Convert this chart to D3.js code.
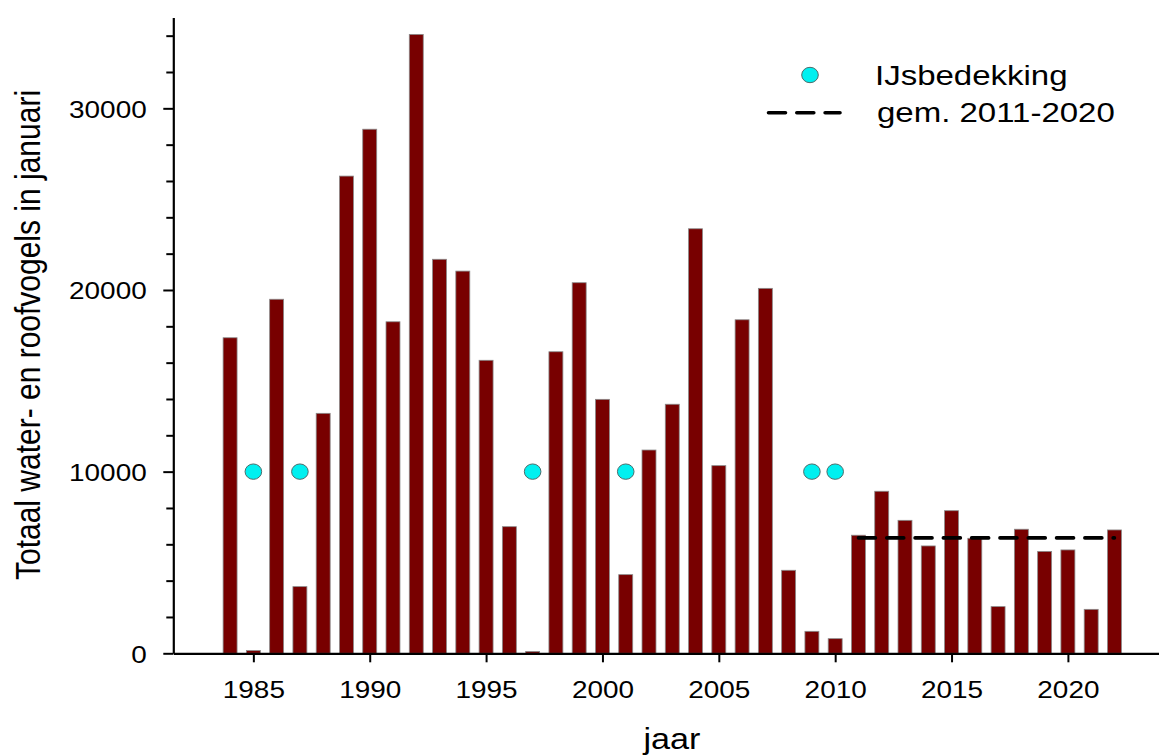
<!DOCTYPE html>
<html>
<head>
<meta charset="utf-8">
<script src="https://cdn.jsdelivr.net/npm/d3@7"></script>
<style>
  html, body { margin: 0; padding: 0; background: #fff; }
  svg { display: block; }
  text { font-family: "Liberation Sans", Arial, sans-serif; fill: #000; }
</style>
</head>
<body>
<script>
// ---- data ----
const years = d3.range(1984, 2023);
const counts = [17370, 150, 19490, 3670, 13210, 26270, 28850, 18250, 34070, 21690,
                21040, 16130, 6970, 100, 16600, 20400, 13980, 4330, 11190, 13710,
                23370, 10330, 18360, 20090, 4570, 1210, 805, 6500, 8920, 7320,
                5910, 7850, 6330, 2570, 6830, 5610, 5690, 2420, 6790];
const iceYears = [1985, 1987, 1997, 2001, 2009, 2010];
const iceLevel = 10000;
const meanFrom = 2011, meanTo = 2020, meanLineEnd = 2022;
const xTicks = [1985, 1990, 1995, 2000, 2005, 2010, 2015, 2020];
const yTicks = [0, 10000, 20000, 30000];
const yMinorTicks = d3.range(0, 35001, 2000).filter(v => v % 10000 !== 0);
const legendLabels = ["IJsbedekking", "gem. 2011-2020"];
const xLabel = "jaar";
const yLabel = "Totaal water- en roofvogels in januari";

const data = years.map((y, i) => ({year: y, value: counts[i]}));
const meanVal = d3.mean(data.filter(d => d.year >= meanFrom && d.year <= meanTo), d => d.value);

// ---- layout ----
const W = 1159, H = 756;
const SX = 1.14; // horizontal stretch of text in the reference
const svg = d3.select("body").append("svg").attr("width", W).attr("height", H);

const x = d3.scaleLinear().domain([1981.56, 2024]).range([173.3, 1161]);
const y = d3.scaleLinear().domain([0, 35000]).range([653.3, 17.5]);
const barW = x(1984.6) - x(1984);

// bars
svg.append("g").selectAll("rect").data(data).join("rect")
  .attr("x", d => x(d.year) - barW / 2)
  .attr("y", d => y(d.value))
  .attr("width", barW)
  .attr("height", d => y(0) - y(d.value))
  .attr("fill", "#780000")
  .attr("stroke", "#8a8a8a")
  .attr("stroke-width", 0.8);

// ice cover points
svg.append("g").selectAll("ellipse").data(iceYears).join("ellipse")
  .attr("cx", d => x(d))
  .attr("cy", y(iceLevel))
  .attr("rx", 8.3).attr("ry", 7.7)
  .attr("fill", "#00f0f0")
  .attr("stroke", "#4d6b6b")
  .attr("stroke-width", 1);

// mean line
svg.append("line")
  .attr("x1", x(meanFrom)).attr("x2", x(meanLineEnd))
  .attr("y1", y(meanVal)).attr("y2", y(meanVal))
  .attr("stroke", "#000").attr("stroke-width", 3.6)
  .attr("stroke-linecap", "round")
  .attr("stroke-dasharray", "17,11.3");

// x axis
const gx = svg.append("g").attr("transform", `translate(0,${y(0)})`)
  .call(d3.axisBottom(x).tickValues(xTicks).tickFormat(d3.format("d")).tickSize(9).tickSizeOuter(0));
gx.select(".domain").attr("stroke-width", 2.2);
gx.selectAll(".tick line").attr("stroke-width", 2);
gx.selectAll(".tick text")
  .attr("font-size", 24.5).attr("y", 45).attr("dy", 0)
  .attr("font-family", "Liberation Sans, Arial, sans-serif")
  .attr("transform", `scale(${SX},1)`);

// y axis major
const gy = svg.append("g").attr("transform", `translate(${x.range()[0]},0)`)
  .call(d3.axisLeft(y).tickValues(yTicks).tickFormat(d3.format("d")).tickSize(10).tickSizeOuter(0));
gy.select(".domain").attr("stroke-width", 2.2);
gy.selectAll(".tick line").attr("stroke-width", 2);
gy.selectAll(".tick text")
  .attr("font-size", 24.5).attr("x", -26.6 / SX).attr("dy", "0.36em")
  .attr("font-family", "Liberation Sans, Arial, sans-serif")
  .attr("transform", `scale(${SX},1)`);

// y axis minor
const gym = svg.append("g").attr("transform", `translate(${x.range()[0]},0)`)
  .call(d3.axisLeft(y).tickValues(yMinorTicks).tickFormat("").tickSize(7).tickSizeOuter(0));
gym.select(".domain").remove();
gym.selectAll(".tick line").attr("stroke-width", 2);

// axis titles
svg.append("text")
  .attr("transform", `translate(672,749) scale(${SX},1)`)
  .attr("text-anchor", "middle")
  .attr("font-size", 30)
  .text(xLabel);

svg.append("text")
  .attr("transform", `translate(40,335) rotate(-90) scale(1,${SX})`)
  .attr("text-anchor", "middle")
  .attr("font-size", 30)
  .text(yLabel);

// legend
const LSX = 1.2;
const lg = svg.append("g");
lg.append("ellipse")
  .attr("cx", 810).attr("cy", 75).attr("rx", 8.3).attr("ry", 7.7)
  .attr("fill", "#00f0f0").attr("stroke", "#4d6b6b").attr("stroke-width", 1);
lg.append("text")
  .attr("transform", `translate(875,85) scale(${LSX},1)`)
  .attr("font-size", 27.5)
  .text(legendLabels[0]);
lg.append("line")
  .attr("x1", 768.5).attr("x2", 840).attr("y1", 112.7).attr("y2", 112.7)
  .attr("stroke", "#000").attr("stroke-width", 3.6)
  .attr("stroke-linecap", "round")
  .attr("stroke-dasharray", "17,11.3");
lg.append("text")
  .attr("transform", `translate(877,121.5) scale(${LSX},1)`)
  .attr("font-size", 27.5)
  .text(legendLabels[1]);
</script>
</body>
</html>
